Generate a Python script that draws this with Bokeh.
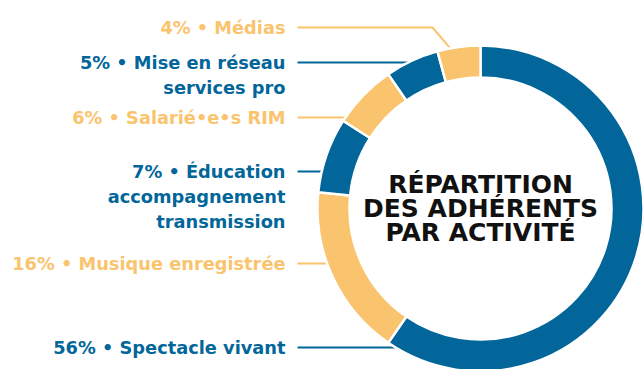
import numpy as np
from bokeh.plotting import figure
from bokeh.models import Range1d, ColumnDataSource
from bokeh.core.properties import value
from bokeh.embed import file_html
from bokeh.resources import INLINE

# ---- data ----
categories = ["Spectacle vivant", "Musique enregistrée", "Éducation\naccompagnement\ntransmission",
              "Salarié•e•s RIM", "Mise en réseau\nservices pro", "Médias"]
percents = [56, 16, 7, 6, 5, 4]
title_lines = ["RÉPARTITION", "DES ADHÉRENTS", "PAR ACTIVITÉ"]

BLUE = "#02669A"
YELLOW = "#FAC46F"
colors = [BLUE, YELLOW, BLUE, YELLOW, BLUE, YELLOW]

W, H = 643, 369
p = figure(width=W, height=H, x_range=Range1d(0, 643), y_range=Range1d(0, 369),
           output_backend="svg", toolbar_location=None, min_border=0)
p.axis.visible = False
p.grid.visible = False
p.outline_line_color = None
p.background_fill_color = "white"

def Y(sy):
    return 369 - sy

cx, cy = 480, Y(208)
r_out, r_in = 163, 131

vals = np.array(percents, dtype=float)
frac = vals / vals.sum()
cum = np.concatenate([[0], np.cumsum(frac)])
start = np.pi / 2 - cum[:-1] * 2 * np.pi
end = np.pi / 2 - cum[1:] * 2 * np.pi

# label layout (screen y of first line for each label)
label_y = [347, 263, 171, 117, 62, 27]
line_gap = 25
text_right = 285
line_start = 297

# leader lines
for i, ly in enumerate(label_y):
    col = colors[i]
    if categories[i] == "Médias":
        mid = (cum[i] + cum[i + 1]) / 2 * 2 * np.pi
        ex = cx + r_out * np.sin(mid) - 8
        ey = cy + r_out * np.cos(mid) - 2
        xs = [line_start, 432, ex]
        ys = [Y(ly), Y(ly), ey]
    else:
        dy = Y(ly) - cy
        ex = cx - np.sqrt(r_out ** 2 - dy ** 2) + 2
        xs = [line_start, ex]
        ys = [Y(ly), Y(ly)]
    p.line(xs, ys, line_color=col, line_width=2)

src = ColumnDataSource(dict(start=start, end=end, color=colors))
p.annular_wedge(x=cx, y=cy, inner_radius=r_in, outer_radius=r_out, start_angle="start",
                end_angle="end", direction="clock", fill_color="color", line_color="white",
                line_width=2.5, source=src)

# labels
tx, ty, tt, tc = [], [], [], []
for i, cat in enumerate(categories):
    lines = cat.split("\n")
    lines[0] = f"{percents[i]}% • {lines[0]}"
    for j, ln in enumerate(lines):
        tx.append(text_right)
        ty.append(Y(label_y[i] + j * line_gap))
        tt.append(ln)
        tc.append(colors[i])
p.text(x=tx, y=ty, text=tt, text_color=tc, text_align="right", text_baseline="middle",
       text_font=value("DejaVu Sans"), text_font_style="bold", text_font_size="17.8px")

# center title
p.text(x=[cx] * 3, y=[Y(184), Y(208), Y(232)], text=title_lines, text_color="#111111",
       text_align="center", text_baseline="middle", text_font=value("DejaVu Sans"),
       text_font_style="bold", text_font_size="25px")

open("out.html", "w").write(file_html(p, INLINE))
